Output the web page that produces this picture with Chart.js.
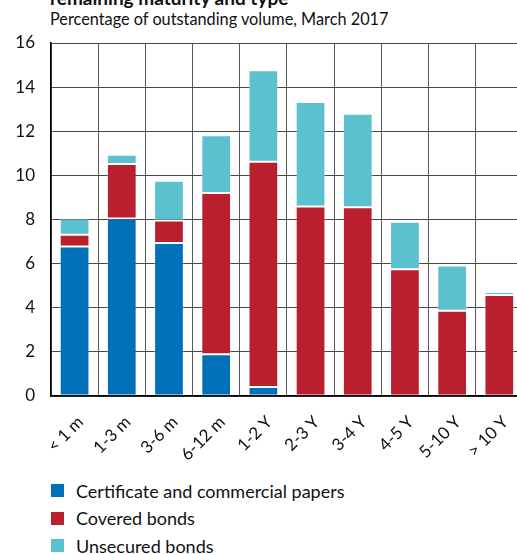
<!DOCTYPE html>
<html>
<head>
<meta charset="utf-8">
<script src="https://cdn.jsdelivr.net/npm/chart.js@4.4.1/dist/chart.umd.min.js"></script>
<style>
  html, body { margin: 0; padding: 0; background: #fff; overflow: hidden; }
  body { width: 517px; height: 554px; position: relative; font-family: Lato, sans-serif; color: #111; }
  .title { position: absolute; left: 50px; top: -14px; font-size: 19px; font-weight: bold; white-space: nowrap; }
  .subtitle { position: absolute; left: 50px; top: 9px; font-size: 16.3px; white-space: nowrap; }
  .wrap { position: absolute; left: 0; top: 0; width: 530px; height: 470px; }
  #legend { position: absolute; left: 51px; top: 477px; margin: 0; padding: 0; list-style: none; }
  #legend li { display: flex; align-items: center; height: 27.5px; font-size: 18px; white-space: nowrap; }
  #legend span.box { display: inline-block; width: 13px; height: 13px; margin-right: 12px; }
</style>
</head>
<body>
<div class="title">remaining maturity and type</div>
<div class="subtitle">Percentage of outstanding volume, March 2017</div>
<div class="wrap"><canvas id="graph"></canvas></div>
<ul id="legend"></ul>
<script>
const maturities = ['< 1 m', '1-3 m', '3-6 m', '6-12 m', '1-2 Y', '2-3 Y', '3-4 Y', '4-5 Y', '5-10 Y', '> 10 Y'];

// percentage of outstanding volume per instrument type
const certificates = [6.78, 8.05, 6.93, 1.89, 0.41, 0, 0, 0, 0, 0];
const coveredBonds = [0.53, 2.47, 1.03, 7.31, 10.21, 8.59, 8.55, 5.75, 3.86, 4.58];
const unsecuredBonds = [0.72, 0.42, 1.80, 2.62, 4.15, 4.74, 4.24, 2.15, 2.05, 0.13];

const yTicks = [0, 2, 4, 6, 8, 10, 12, 14, 16];

const colors = {
  certificates: '#0070b8',
  covered: '#b91f2d',
  unsecured: '#5bc1cf'
};

const FONT = 'Lato, sans-serif';

function drawChart() {
  const ctx = document.getElementById('graph').getContext('2d');

  const datasets = [
    { label: 'Certificate and commercial papers', data: certificates, backgroundColor: colors.certificates },
    { label: 'Covered bonds', data: coveredBonds, backgroundColor: colors.covered },
    { label: 'Unsecured bonds', data: unsecuredBonds, backgroundColor: colors.unsecured }
  ].map(d => Object.assign(d, {
    borderColor: 'rgba(255,255,255,0.25)',
    borderWidth: 1,
    borderSkipped: false,
    barPercentage: 0.63,
    categoryPercentage: 1
  }));

  const chart = new Chart(ctx, {
    type: 'bar',
    data: { labels: maturities, datasets },
    options: {
      responsive: true,
      maintainAspectRatio: false,
      animation: false,
      layout: { padding: { top: 43, left: 0, right: 5, bottom: 0 } },
      plugins: {
        legend: { display: false },
        tooltip: { enabled: false }
      },
      scales: {
        x: {
          stacked: true,
          afterFit: (scale) => { scale.height = 74; },
          grid: { offset: true, color: '#5a5a5a', lineWidth: 1, drawTicks: false },
          border: { color: '#000', width: 1.5 },
          ticks: {
            color: '#111',
            font: { family: FONT, size: 17 },
            maxRotation: 45,
            minRotation: 45,
            padding: 16,
            labelOffset: 6,
            autoSkip: false
          }
        },
        y: {
          stacked: true,
          min: 0,
          max: 16,
          afterFit: (scale) => { scale.width = 51; },
          afterBuildTicks: (scale) => { scale.ticks = yTicks.map(v => ({ value: v })); },
          grid: { color: '#4a4a4a', lineWidth: 1, drawTicks: false },
          border: { color: '#000', width: 1.5 },
          ticks: {
            color: '#111',
            font: { family: FONT, size: 17 },
            padding: 16
          }
        }
      }
    }
  });

  // legend, one entry per row
  const list = document.getElementById('legend');
  chart.data.datasets.forEach(ds => {
    const li = document.createElement('li');
    const box = document.createElement('span');
    box.className = 'box';
    box.style.background = ds.backgroundColor;
    li.appendChild(box);
    li.appendChild(document.createTextNode(ds.label));
    list.appendChild(li);
  });
}

drawChart();
</script>
</body>
</html>
